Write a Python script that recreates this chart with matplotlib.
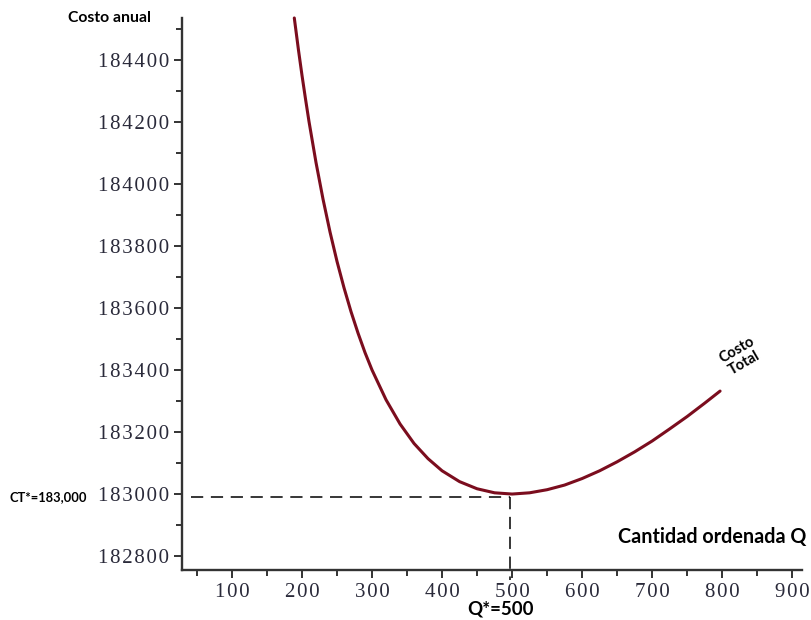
import matplotlib
matplotlib.use("Agg")
import matplotlib.pyplot as plt
from matplotlib.ticker import MultipleLocator, FuncFormatter

# valores (Q, costo total)
q_vals = [189, 195, 200, 205, 210, 220, 230, 240, 250, 260, 270, 280, 290,
          300, 320, 340, 360, 380, 400, 425, 450, 475, 500, 525, 550, 575,
          600, 625, 650, 675, 700, 725, 750, 775, 797]
costo_total = [184535, 184431, 184350, 184274, 184201, 184069, 183951, 183845,
               183750, 183665, 183588, 183519, 183456, 183400, 183304, 183226,
               183163, 183114, 183075, 183040, 183017, 183004, 183000, 183004,
               183014, 183029, 183050, 183075, 183104, 183136, 183171, 183210,
               183250, 183293, 183332]

q_opt = 497
ct_opt = 182990

x_ticks = [100, 200, 300, 400, 500, 600, 700, 800, 900]
y_ticks = [182800, 183000, 183200, 183400, 183600, 183800, 184000, 184200, 184400]

curve_color = "#7b0d1e"
axis_color = "#333333"
tick_color = "#2a2a3a"

fig = plt.figure(figsize=(8.12, 6.2), dpi=100)
ax = fig.add_axes([0.2241, 0.0806, 0.7636, 0.8904])

ax.plot(q_vals, costo_total, color=curve_color, lw=2.2, solid_capstyle="round", clip_on=False)

# lineas punteadas del optimo
ax.plot([41, q_opt], [ct_opt, ct_opt], color="black", lw=1.1, dashes=(8, 5))
ax.plot([q_opt, q_opt], [ct_opt, 182723], color="black", lw=1.1, dashes=(8, 5), clip_on=False)

ax.set_xlim(28.6, 914)
ax.set_ylim(182755, 184535)

for side in ["top", "right"]:
    ax.spines[side].set_visible(False)
for side in ["left", "bottom"]:
    ax.spines[side].set_color(axis_color)
    ax.spines[side].set_linewidth(1.7)

ax.set_xticks(x_ticks)
ax.set_yticks(y_ticks)
ax.xaxis.set_minor_locator(MultipleLocator(50))
ax.yaxis.set_minor_locator(MultipleLocator(100))
ax.tick_params(which="major", length=6, width=1.4, color=axis_color, pad=3,
               labelsize=15, labelcolor=tick_color)
ax.tick_params(which="minor", length=4, width=1.4, color=axis_color)

# numeros con un poco mas de espacio entre cifras
fmt = FuncFormatter(lambda v, p: "\u200a".join(str(int(v))))
ax.xaxis.set_major_formatter(fmt)
ax.yaxis.set_major_formatter(fmt)
for lab in ax.get_xticklabels() + ax.get_yticklabels():
    lab.set_family(["Liberation Serif", "DejaVu Serif"])

bold = dict(family="Lato", fontweight="bold", color="black")
fig.text(68 / 812, 1 - 18 / 620, "Costo anual", fontsize=11.3, va="center", ha="left", **bold)
fig.text(10 / 812, 1 - 497 / 620, "CT*=183,000", fontsize=9.3, va="center", ha="left", **bold)
fig.text(501 / 812, 1 - 609 / 620, "Q*=500", fontsize=13.5, va="center", ha="center", **bold)
fig.text(806 / 812, 1 - 537 / 620, "Cantidad ordenada Q", fontsize=14.2, va="center", ha="right", **bold)
fig.text(741 / 812, 1 - 357 / 620, "Costo\nTotal", fontsize=10.5, va="center", ha="center",
         rotation=30, rotation_mode="anchor", multialignment="center", linespacing=1.1, **bold)

fig.savefig("out.png", dpi=100, facecolor="white")
